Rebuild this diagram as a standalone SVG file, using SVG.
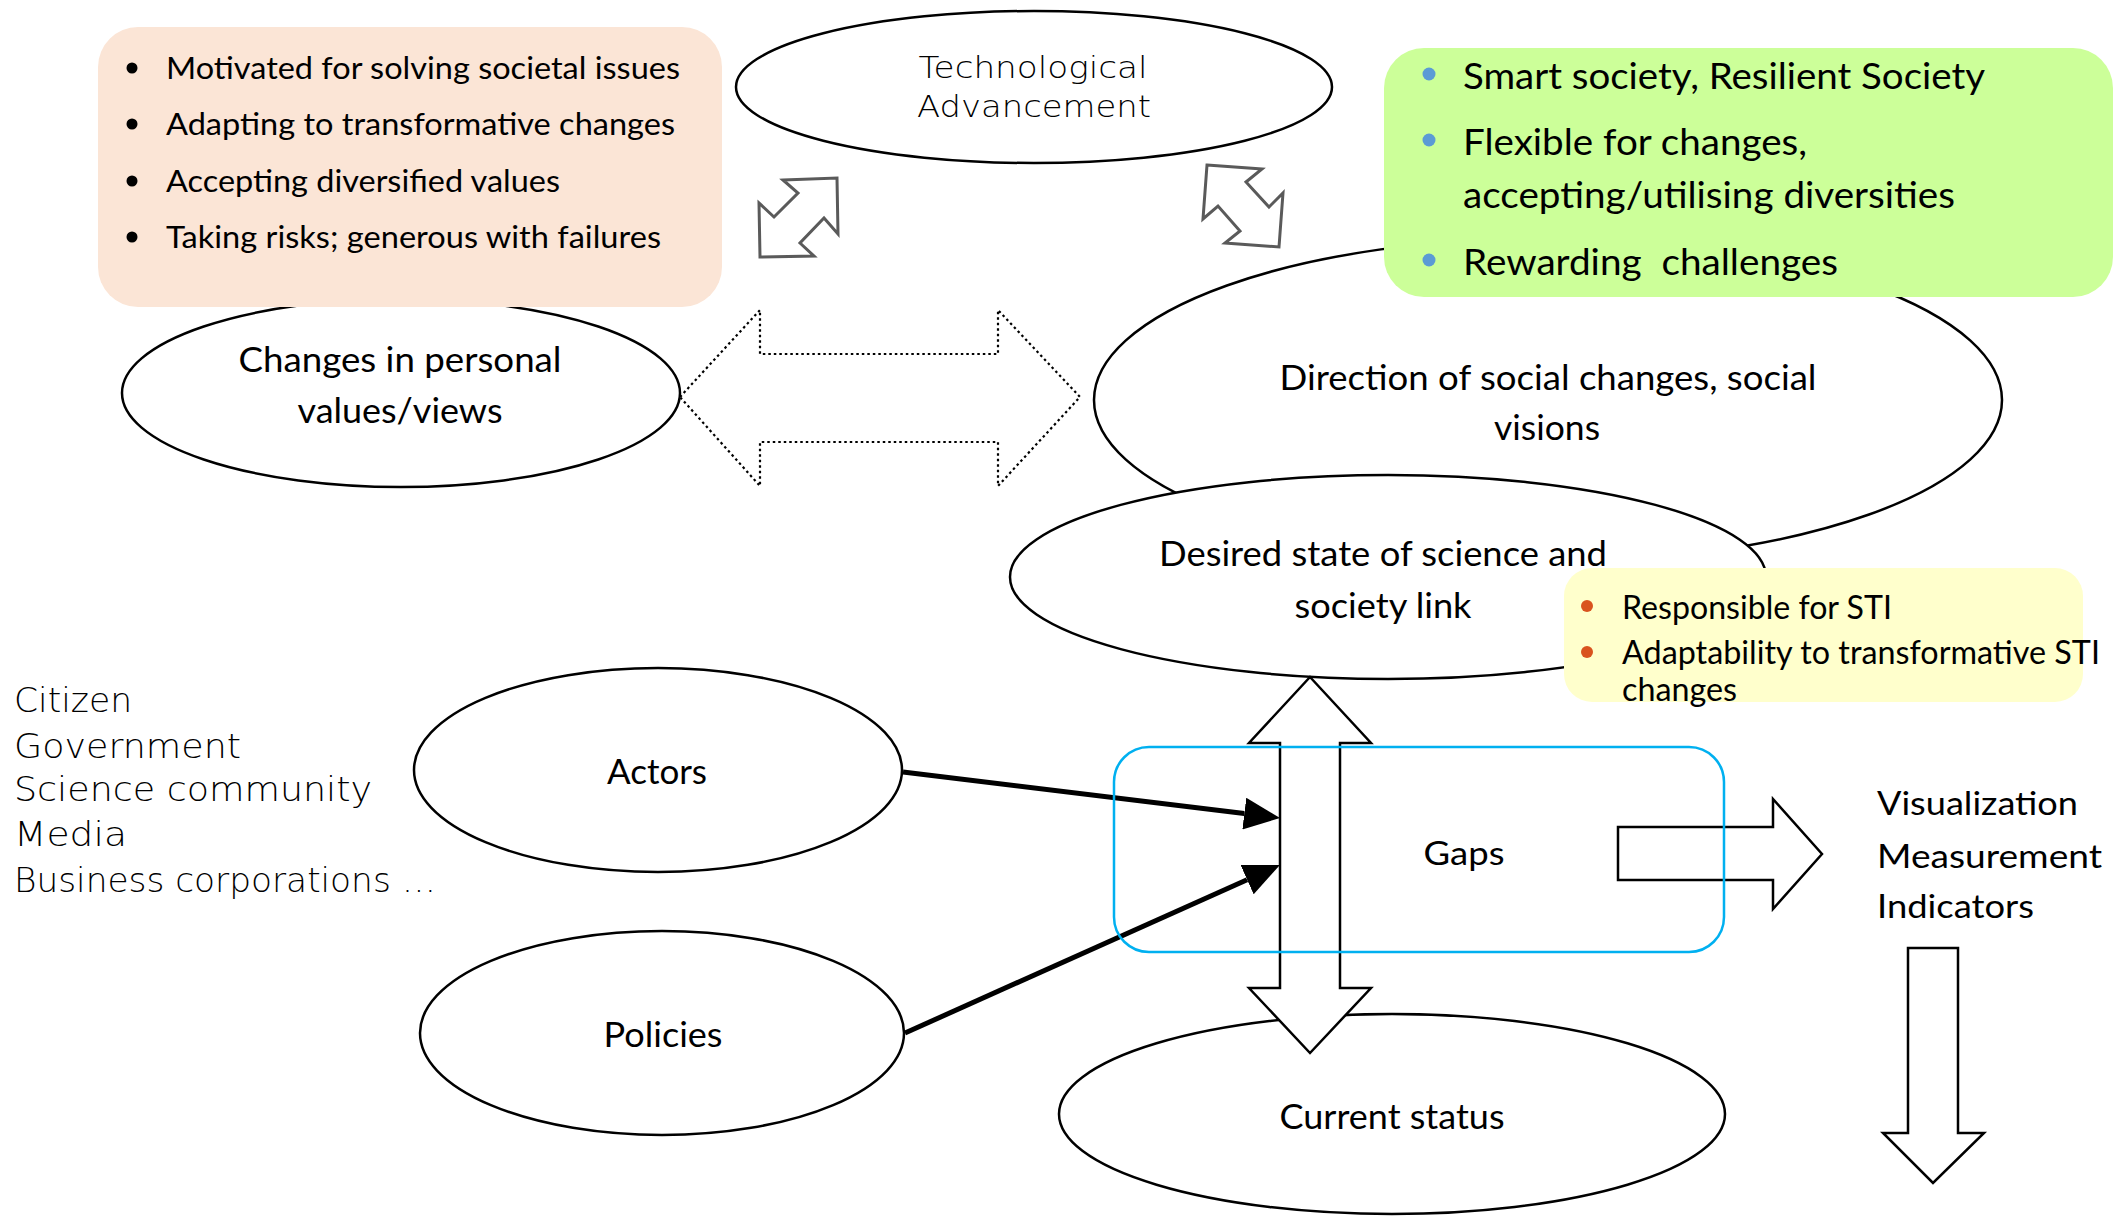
<svg xmlns="http://www.w3.org/2000/svg" width="2126" height="1216" viewBox="0 0 2126 1216">
<style>
.ell{fill:#fff;stroke:#000;stroke-width:2.5}
.cal{font-family:Lato,"Open Sans","Liberation Sans",sans-serif;fill:#000}
.goth{font-family:"DejaVu Sans","Liberation Sans",sans-serif;font-weight:300;fill:#000}
.mid{text-anchor:middle}
.f35{font-size:35px}
.f31{font-size:31px}
.f36{font-size:36px}
.f32{font-size:32px}
.g30{font-size:30px}
.g33{font-size:33px}
.gray{fill:#fff;stroke:#5a5a5a;stroke-width:3;stroke-linejoin:miter}
.blk{fill:#fff;stroke:#000;stroke-width:2.5}
.dot{fill:#fff;stroke:#000;stroke-width:2.2;stroke-dasharray:2.5 3}
.conn{stroke:#000;stroke-width:5;fill:none}
</style>
<defs>
<marker id="ah" markerUnits="userSpaceOnUse" markerWidth="36" markerHeight="32" viewBox="0 0 36 32" refX="0" refY="16" orient="auto">
<path d="M0,0 L36,16 L0,32 z" fill="#000"/>
</marker>
</defs>

<g id="tech">
<ellipse class="ell" cx="1034" cy="87" rx="298" ry="76"/>
<text class="goth g30 mid" x="1033" y="78" textLength="229" lengthAdjust="spacingAndGlyphs">Technological</text>
<text class="goth g30 mid" x="1034" y="117" textLength="234" lengthAdjust="spacingAndGlyphs">Advancement</text>
</g>

<g id="direction">
<ellipse class="ell" cx="1548" cy="400" rx="454" ry="162"/>
<text class="cal f35 mid" x="1548" y="390" textLength="537" lengthAdjust="spacingAndGlyphs">Direction of social changes, social</text>
<text class="cal f35 mid" x="1547" y="440" textLength="106" lengthAdjust="spacingAndGlyphs">visions</text>
</g>

<g id="vision-box">
<rect x="1384" y="48" width="729" height="249" rx="40" ry="40" fill="#ccff99"/>
<circle cx="1429" cy="74" r="6.5" fill="#5b9bd5"/>
<circle cx="1429" cy="140" r="6.5" fill="#5b9bd5"/>
<circle cx="1429" cy="260" r="6.5" fill="#5b9bd5"/>
<text class="cal f36" x="1463" y="89" textLength="522" lengthAdjust="spacingAndGlyphs">Smart society, Resilient Society</text>
<text class="cal f36" x="1463" y="155" textLength="344" lengthAdjust="spacingAndGlyphs">Flexible for changes,</text>
<text class="cal f36" x="1463" y="208" textLength="492" lengthAdjust="spacingAndGlyphs">accepting/utilising diversities</text>
<text class="cal f36" x="1463" y="275" textLength="375" lengthAdjust="spacingAndGlyphs">Rewarding&#160; challenges</text>
</g>

<g id="personal">
<ellipse class="ell" cx="401" cy="393" rx="279" ry="94"/>
<text class="cal f35 mid" x="400" y="372" textLength="323" lengthAdjust="spacingAndGlyphs">Changes in personal</text>
<text class="cal f35 mid" x="400" y="423" textLength="205" lengthAdjust="spacingAndGlyphs">values/views</text>
</g>

<g id="personal-box">
<rect x="98" y="27" width="624" height="280" rx="40" ry="40" fill="#fbe5d6"/>
<circle cx="132" cy="68" r="5.5" fill="#000"/>
<circle cx="132" cy="124" r="5.5" fill="#000"/>
<circle cx="132" cy="181" r="5.5" fill="#000"/>
<circle cx="132" cy="237" r="5.5" fill="#000"/>
<text class="cal f31" x="166" y="79" textLength="514" lengthAdjust="spacingAndGlyphs">Motivated for solving societal issues</text>
<text class="cal f31" x="166" y="135" textLength="509" lengthAdjust="spacingAndGlyphs">Adapting to transformative changes</text>
<text class="cal f31" x="166" y="192" textLength="394" lengthAdjust="spacingAndGlyphs">Accepting diversified values</text>
<text class="cal f31" x="166" y="248" textLength="495" lengthAdjust="spacingAndGlyphs">Taking risks; generous with failures</text>
</g>

<g id="desired">
<ellipse class="ell" cx="1388" cy="577" rx="378" ry="102"/>
<text class="cal f35 mid" x="1383" y="566" textLength="448" lengthAdjust="spacingAndGlyphs">Desired state of science and</text>
<text class="cal f35 mid" x="1383" y="618" textLength="177" lengthAdjust="spacingAndGlyphs">society link</text>
</g>

<g id="desired-box">
<rect x="1564" y="568" width="519" height="134" rx="28" ry="28" fill="#ffffcc"/>
<circle cx="1587" cy="606" r="6" fill="#d9531e"/>
<circle cx="1587" cy="652" r="6" fill="#d9531e"/>
<text class="cal f32" x="1622" y="619" textLength="270" lengthAdjust="spacingAndGlyphs">Responsible for STI</text>
<text class="cal f32" x="1622" y="664" textLength="478" lengthAdjust="spacingAndGlyphs">Adaptability to transformative STI</text>
<text class="cal f32" x="1622" y="701" textLength="115" lengthAdjust="spacingAndGlyphs">changes</text>
</g>

<g id="actors-list">
<text class="goth g33" x="14" y="712" textLength="118" lengthAdjust="spacingAndGlyphs">Citizen</text>
<text class="goth g33" x="14" y="758" textLength="227" lengthAdjust="spacingAndGlyphs">Government</text>
<text class="goth g33" x="14" y="801" textLength="358" lengthAdjust="spacingAndGlyphs">Science community</text>
<text class="goth g33" x="14" y="846" textLength="113" lengthAdjust="spacingAndGlyphs">Media</text>
<text class="goth g33" x="14" y="892" textLength="422" lengthAdjust="spacingAndGlyphs">Business corporations …</text>
</g>

<g id="actors">
<ellipse class="ell" cx="658" cy="770" rx="244" ry="102"/>
<text class="cal f35 mid" x="657" y="784" textLength="100" lengthAdjust="spacingAndGlyphs">Actors</text>
</g>

<g id="policies">
<ellipse class="ell" cx="662" cy="1033" rx="242" ry="102"/>
<text class="cal f35 mid" x="663" y="1047" textLength="119" lengthAdjust="spacingAndGlyphs">Policies</text>
</g>

<g id="current">
<ellipse class="ell" cx="1392" cy="1114" rx="333" ry="100"/>
<text class="cal f35 mid" x="1392" y="1129" textLength="225" lengthAdjust="spacingAndGlyphs">Current status</text>
</g>

<g id="outputs">
<text class="cal f32" x="1877" y="815" textLength="201" lengthAdjust="spacingAndGlyphs">Visualization</text>
<text class="cal f32" x="1877" y="868" textLength="225" lengthAdjust="spacingAndGlyphs">Measurement</text>
<text class="cal f32" x="1877" y="918" textLength="157" lengthAdjust="spacingAndGlyphs">Indicators</text>
</g>

<g id="connectors">
<polygon class="gray" points="783,180 837,178 838,234 824,218 800,243 814,256 760,257 759,203 774,217 798,193"/>
<polygon class="gray" points="1207,165 1262,169 1246,182 1269,207 1283,193 1279,247 1225,243 1240,231 1218,206 1203,219"/>
<polygon class="dot" points="680,397 760,310 760,354 998,354 998,310 1080,397 998,486 998,442 760,442 760,486"/>
<polygon class="blk" points="1310,677 1371,743 1340,743 1340,988 1371,988 1310,1053 1249,988 1280,988 1280,743 1249,743"/>
<polygon class="blk" points="1618,827 1773,827 1773,799 1822,854 1773,909 1773,880 1618,880"/>
<polygon class="blk" points="1908,948 1958,948 1958,1133 1984,1133 1933,1183 1883,1133 1908,1133"/>
<line class="conn" x1="903" y1="772" x2="1244.3" y2="813.6" marker-end="url(#ah)"/>
<line class="conn" x1="905" y1="1033" x2="1247.1" y2="879.7" marker-end="url(#ah)"/>
</g>

<g id="gaps">
<rect x="1114" y="747" width="610" height="205" rx="35" ry="35" fill="none" stroke="#00b0f0" stroke-width="2.5"/>
<text class="cal f32 mid" x="1464" y="865" textLength="81" lengthAdjust="spacingAndGlyphs">Gaps</text>
</g>
</svg>
